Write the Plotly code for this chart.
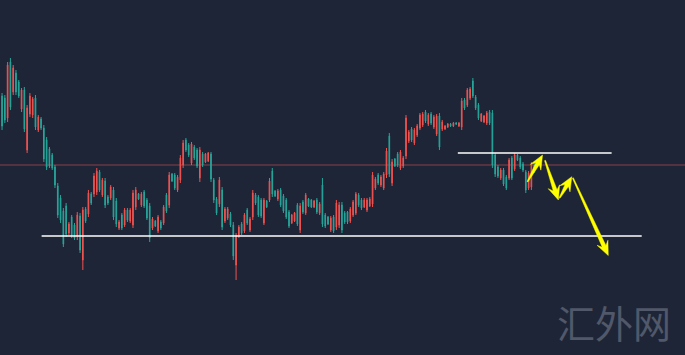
import math
import plotly.graph_objects as go

# ---------------- data (price units) ----------------
open_ = [
    1904, 1902, 1882, 1938, 1908, 1927, 1918, 1891, 1910, 1850,
    1886, 1885, 1902, 1870, 1881, 1872, 1860, 1851, 1845, 1833,
    1814, 1802, 1789, 1794, 1767, 1783, 1775, 1763, 1784, 1740,
    1791, 1786, 1806, 1806, 1808, 1828, 1805, 1819, 1803, 1802,
    1810, 1799, 1772, 1785, 1775, 1790, 1779, 1775, 1793, 1806,
    1795, 1808, 1800, 1794, 1772, 1779, 1769, 1778, 1777, 1805,
    1795, 1826, 1825, 1810, 1820, 1835, 1860, 1855, 1837, 1853,
    1850, 1822, 1846, 1838, 1839, 1846, 1820, 1801, 1796, 1810,
    1779, 1782, 1786, 1775, 1735, 1764, 1776, 1769, 1790, 1770,
    1783, 1805, 1803, 1800, 1777, 1799, 1800, 1829, 1809, 1801,
    1810, 1804, 1800, 1788, 1777, 1779, 1795, 1770, 1798, 1787,
    1801, 1800, 1793, 1800, 1787, 1815, 1785, 1783, 1770, 1783,
    1773, 1775, 1795, 1787, 1788, 1779, 1785, 1787, 1805, 1800,
    1793, 1790, 1794, 1796, 1812, 1825, 1815, 1812, 1825, 1864,
    1817, 1841, 1846, 1832, 1834, 1844, 1859, 1871, 1857, 1865,
    1872, 1875, 1888, 1876, 1886, 1873, 1866, 1884, 1871, 1871,
    1873, 1876, 1874, 1877, 1874, 1873, 1900, 1895, 1902, 1919,
    1903, 1895, 1879, 1878, 1877, 1888, 1887, 1845, 1833, 1822,
    1830, 1823, 1822, 1842, 1831, 1845, 1842, 1836, 1828, 1812,
    1813, 1835,
]
high = [
    1907, 1905, 1938, 1942, 1935, 1930, 1920, 1912, 1913, 1895,
    1907, 1903, 1905, 1885, 1883, 1875, 1863, 1853, 1847, 1835,
    1817, 1805, 1792, 1797, 1778, 1785, 1777, 1788, 1787, 1793,
    1793, 1810, 1808, 1827, 1832, 1830, 1822, 1822, 1805, 1815,
    1813, 1802, 1780, 1787, 1792, 1792, 1792, 1810, 1813, 1807,
    1808, 1810, 1802, 1797, 1783, 1780, 1785, 1780, 1795, 1807,
    1828, 1827, 1827, 1825, 1845, 1860, 1862, 1857, 1858, 1855,
    1852, 1853, 1848, 1847, 1848, 1848, 1822, 1803, 1823, 1813,
    1793, 1793, 1788, 1778, 1767, 1775, 1778, 1787, 1792, 1783,
    1810, 1807, 1805, 1802, 1802, 1800, 1822, 1832, 1810, 1811,
    1812, 1806, 1802, 1790, 1786, 1788, 1797, 1797, 1800, 1807,
    1802, 1801, 1800, 1802, 1798, 1822, 1787, 1784, 1784, 1785,
    1800, 1798, 1798, 1789, 1789, 1793, 1800, 1808, 1807, 1802,
    1802, 1802, 1803, 1828, 1823, 1827, 1825, 1828, 1852, 1867,
    1841, 1842, 1848, 1850, 1844, 1885, 1870, 1873, 1872, 1876,
    1887, 1888, 1890, 1887, 1888, 1885, 1886, 1887, 1880, 1875,
    1877, 1877, 1878, 1878, 1878, 1902, 1902, 1912, 1913, 1922,
    1905, 1897, 1887, 1885, 1889, 1890, 1890, 1847, 1835, 1832,
    1832, 1825, 1842, 1844, 1847, 1846, 1844, 1838, 1830, 1829,
    1838, 1837,
]
low = [
    1870, 1877, 1878, 1890, 1905, 1905, 1902, 1888, 1868, 1847,
    1883, 1882, 1870, 1868, 1870, 1838, 1830, 1832, 1830, 1812,
    1782, 1777, 1753, 1763, 1765, 1762, 1760, 1760, 1747, 1730,
    1777, 1783, 1795, 1803, 1805, 1808, 1803, 1792, 1795, 1800,
    1780, 1773, 1770, 1770, 1773, 1778, 1777, 1772, 1790, 1800,
    1793, 1792, 1780, 1758, 1770, 1773, 1767, 1770, 1775, 1787,
    1792, 1818, 1810, 1808, 1817, 1832, 1848, 1843, 1835, 1840,
    1832, 1818, 1833, 1837, 1838, 1818, 1797, 1785, 1793, 1770,
    1777, 1780, 1773, 1740, 1720, 1762, 1765, 1767, 1775, 1768,
    1780, 1795, 1783, 1782, 1775, 1792, 1798, 1803, 1803, 1799,
    1793, 1787, 1781, 1772, 1776, 1778, 1774, 1767, 1786, 1785,
    1793, 1792, 1792, 1786, 1785, 1773, 1772, 1775, 1768, 1767,
    1770, 1772, 1767, 1776, 1776, 1777, 1783, 1785, 1793, 1790,
    1792, 1788, 1793, 1793, 1810, 1815, 1813, 1810, 1822, 1823,
    1814, 1833, 1833, 1830, 1832, 1841, 1857, 1858, 1855, 1863,
    1870, 1873, 1877, 1874, 1875, 1871, 1864, 1850, 1869, 1870,
    1872, 1873, 1873, 1875, 1873, 1870, 1890, 1893, 1900, 1902,
    1890, 1880, 1878, 1877, 1875, 1875, 1832, 1823, 1822, 1820,
    1814, 1810, 1820, 1820, 1829, 1839, 1831, 1828, 1807, 1810,
    1810, 1827,
]
close = [
    1874, 1880, 1935, 1893, 1932, 1908, 1904, 1910, 1871, 1892,
    1904, 1901, 1873, 1883, 1872, 1841, 1833, 1834, 1832, 1815,
    1785, 1780, 1756, 1766, 1776, 1764, 1762, 1785, 1750, 1790,
    1779, 1807, 1797, 1824, 1829, 1810, 1820, 1795, 1797, 1813,
    1783, 1776, 1778, 1772, 1790, 1780, 1790, 1807, 1810, 1801,
    1806, 1794, 1782, 1762, 1781, 1774, 1783, 1772, 1793, 1789,
    1825, 1819, 1812, 1823, 1842, 1857, 1850, 1845, 1856, 1842,
    1834, 1850, 1835, 1846, 1847, 1821, 1800, 1787, 1820, 1773,
    1791, 1791, 1775, 1744, 1764, 1773, 1767, 1785, 1777, 1781,
    1807, 1797, 1785, 1784, 1800, 1793, 1819, 1806, 1804, 1809,
    1795, 1789, 1783, 1774, 1785, 1787, 1776, 1794, 1788, 1805,
    1794, 1793, 1799, 1788, 1796, 1776, 1774, 1776, 1782, 1769,
    1797, 1795, 1770, 1778, 1778, 1791, 1798, 1806, 1795, 1792,
    1800, 1800, 1801, 1825, 1821, 1817, 1823, 1826, 1849, 1826,
    1838, 1834, 1835, 1848, 1842, 1882, 1868, 1860, 1870, 1874,
    1885, 1886, 1879, 1885, 1877, 1883, 1884, 1853, 1878, 1874,
    1876, 1874, 1877, 1876, 1877, 1899, 1892, 1910, 1911, 1904,
    1892, 1882, 1886, 1884, 1887, 1877, 1835, 1826, 1824, 1830,
    1816, 1812, 1840, 1822, 1845, 1840, 1833, 1830, 1810, 1827,
    1836, 1829,
]
bars = list(range(len(open_)))

# reference levels: (price, start bar, end bar)
mid_level = 1835
support = (1764, 14.2, 229.6)
resistance = (1847, 163.6, 218.8)

# projected path (bar, price) segments: start -> tip
projection = [
    ((188.6, 1818.3), (194.0, 1845.0)),
    ((194.9, 1839.5), (199.7, 1800.0)),
    ((200.1, 1802.0), (204.5, 1823.3)),
    ((204.9, 1822.0), (217.6, 1744.5)),
]

watermark = "汇外网"

# ---------------- styling ----------------
W, H = 685, 355
XR = [-0.736, 245.14]
YR = [1645, 2000]
BG = "#1e2537"
UP = "#ef5350"
DOWN = "#26a69a"
YELLOW = "#ffff00"

fig = go.Figure()
fig.add_trace(go.Candlestick(
    x=bars, open=open_, high=high, low=low, close=close,
    increasing=dict(line=dict(color=UP, width=1), fillcolor=UP),
    decreasing=dict(line=dict(color=DOWN, width=1), fillcolor=DOWN),
    whiskerwidth=0, hoverinfo="skip", showlegend=False,
))


def to_px(i, p):
    return ((i - XR[0]) / (XR[1] - XR[0]) * W, (YR[1] - p) / (YR[1] - YR[0]) * H)


def to_data(px, py):
    return (XR[0] + px / W * (XR[1] - XR[0]), YR[1] - py / H * (YR[1] - YR[0]))


def arrow_path(a, b, w0=1.0, w1=4.0, hl=14.0, hw=6.0):
    ax, ay = to_px(*a)
    bx, by = to_px(*b)
    dx, dy = bx - ax, by - ay
    L = math.hypot(dx, dy)
    ux, uy = dx / L, dy / L
    nx, ny = -uy, ux
    neck = (bx - ux * hl * 0.72, by - uy * hl * 0.72)
    barb = (bx - ux * hl, by - uy * hl)
    pts = [
        (ax + nx * w0 / 2, ay + ny * w0 / 2),
        (neck[0] + nx * w1 / 2, neck[1] + ny * w1 / 2),
        (barb[0] + nx * hw, barb[1] + ny * hw),
        (bx, by),
        (barb[0] - nx * hw, barb[1] - ny * hw),
        (neck[0] - nx * w1 / 2, neck[1] - ny * w1 / 2),
        (ax - nx * w0 / 2, ay - ny * w0 / 2),
    ]
    d = [to_data(*p) for p in pts]
    return "M " + " L ".join(f"{x:.4f},{y:.4f}" for x, y in d) + " Z"


shapes = [
    dict(type="line", xref="paper", yref="y", x0=0, x1=1, y0=mid_level, y1=mid_level,
         line=dict(color="#8b4048", width=1), layer="below"),
    dict(type="line", xref="x", yref="y", x0=support[1], x1=support[2],
         y0=support[0], y1=support[0], line=dict(color="#ffffff", width=1.5)),
    dict(type="line", xref="x", yref="y", x0=resistance[1], x1=resistance[2],
         y0=resistance[0], y1=resistance[0], line=dict(color="#ffffff", width=1.5)),
]
for a, b in projection:
    shapes.append(dict(type="path", xref="x", yref="y", path=arrow_path(a, b),
                       fillcolor=YELLOW, line=dict(color=YELLOW, width=0.5)))

fig.update_layout(
    width=W, height=H,
    margin=dict(l=0, r=0, t=0, b=0, pad=0),
    paper_bgcolor=BG, plot_bgcolor=BG,
    showlegend=False,
    boxgap=0.65,
    shapes=shapes,
    xaxis=dict(range=XR, visible=False, showgrid=False, zeroline=False,
               rangeslider=dict(visible=False), fixedrange=True),
    yaxis=dict(range=YR, visible=False, showgrid=False, zeroline=False, fixedrange=True),
    annotations=[dict(text=watermark, xref="paper", yref="paper", x=0.896, y=0.093,
                      xanchor="center", yanchor="middle", showarrow=False,
                      font=dict(family="Noto Sans CJK SC", size=38, color="#505869"))],
)

fig.write_html(
    "out.html",
    config={"displayModeBar": False},
    post_script="document.body.style.margin='0';document.body.style.background='" + BG + "';",
)
